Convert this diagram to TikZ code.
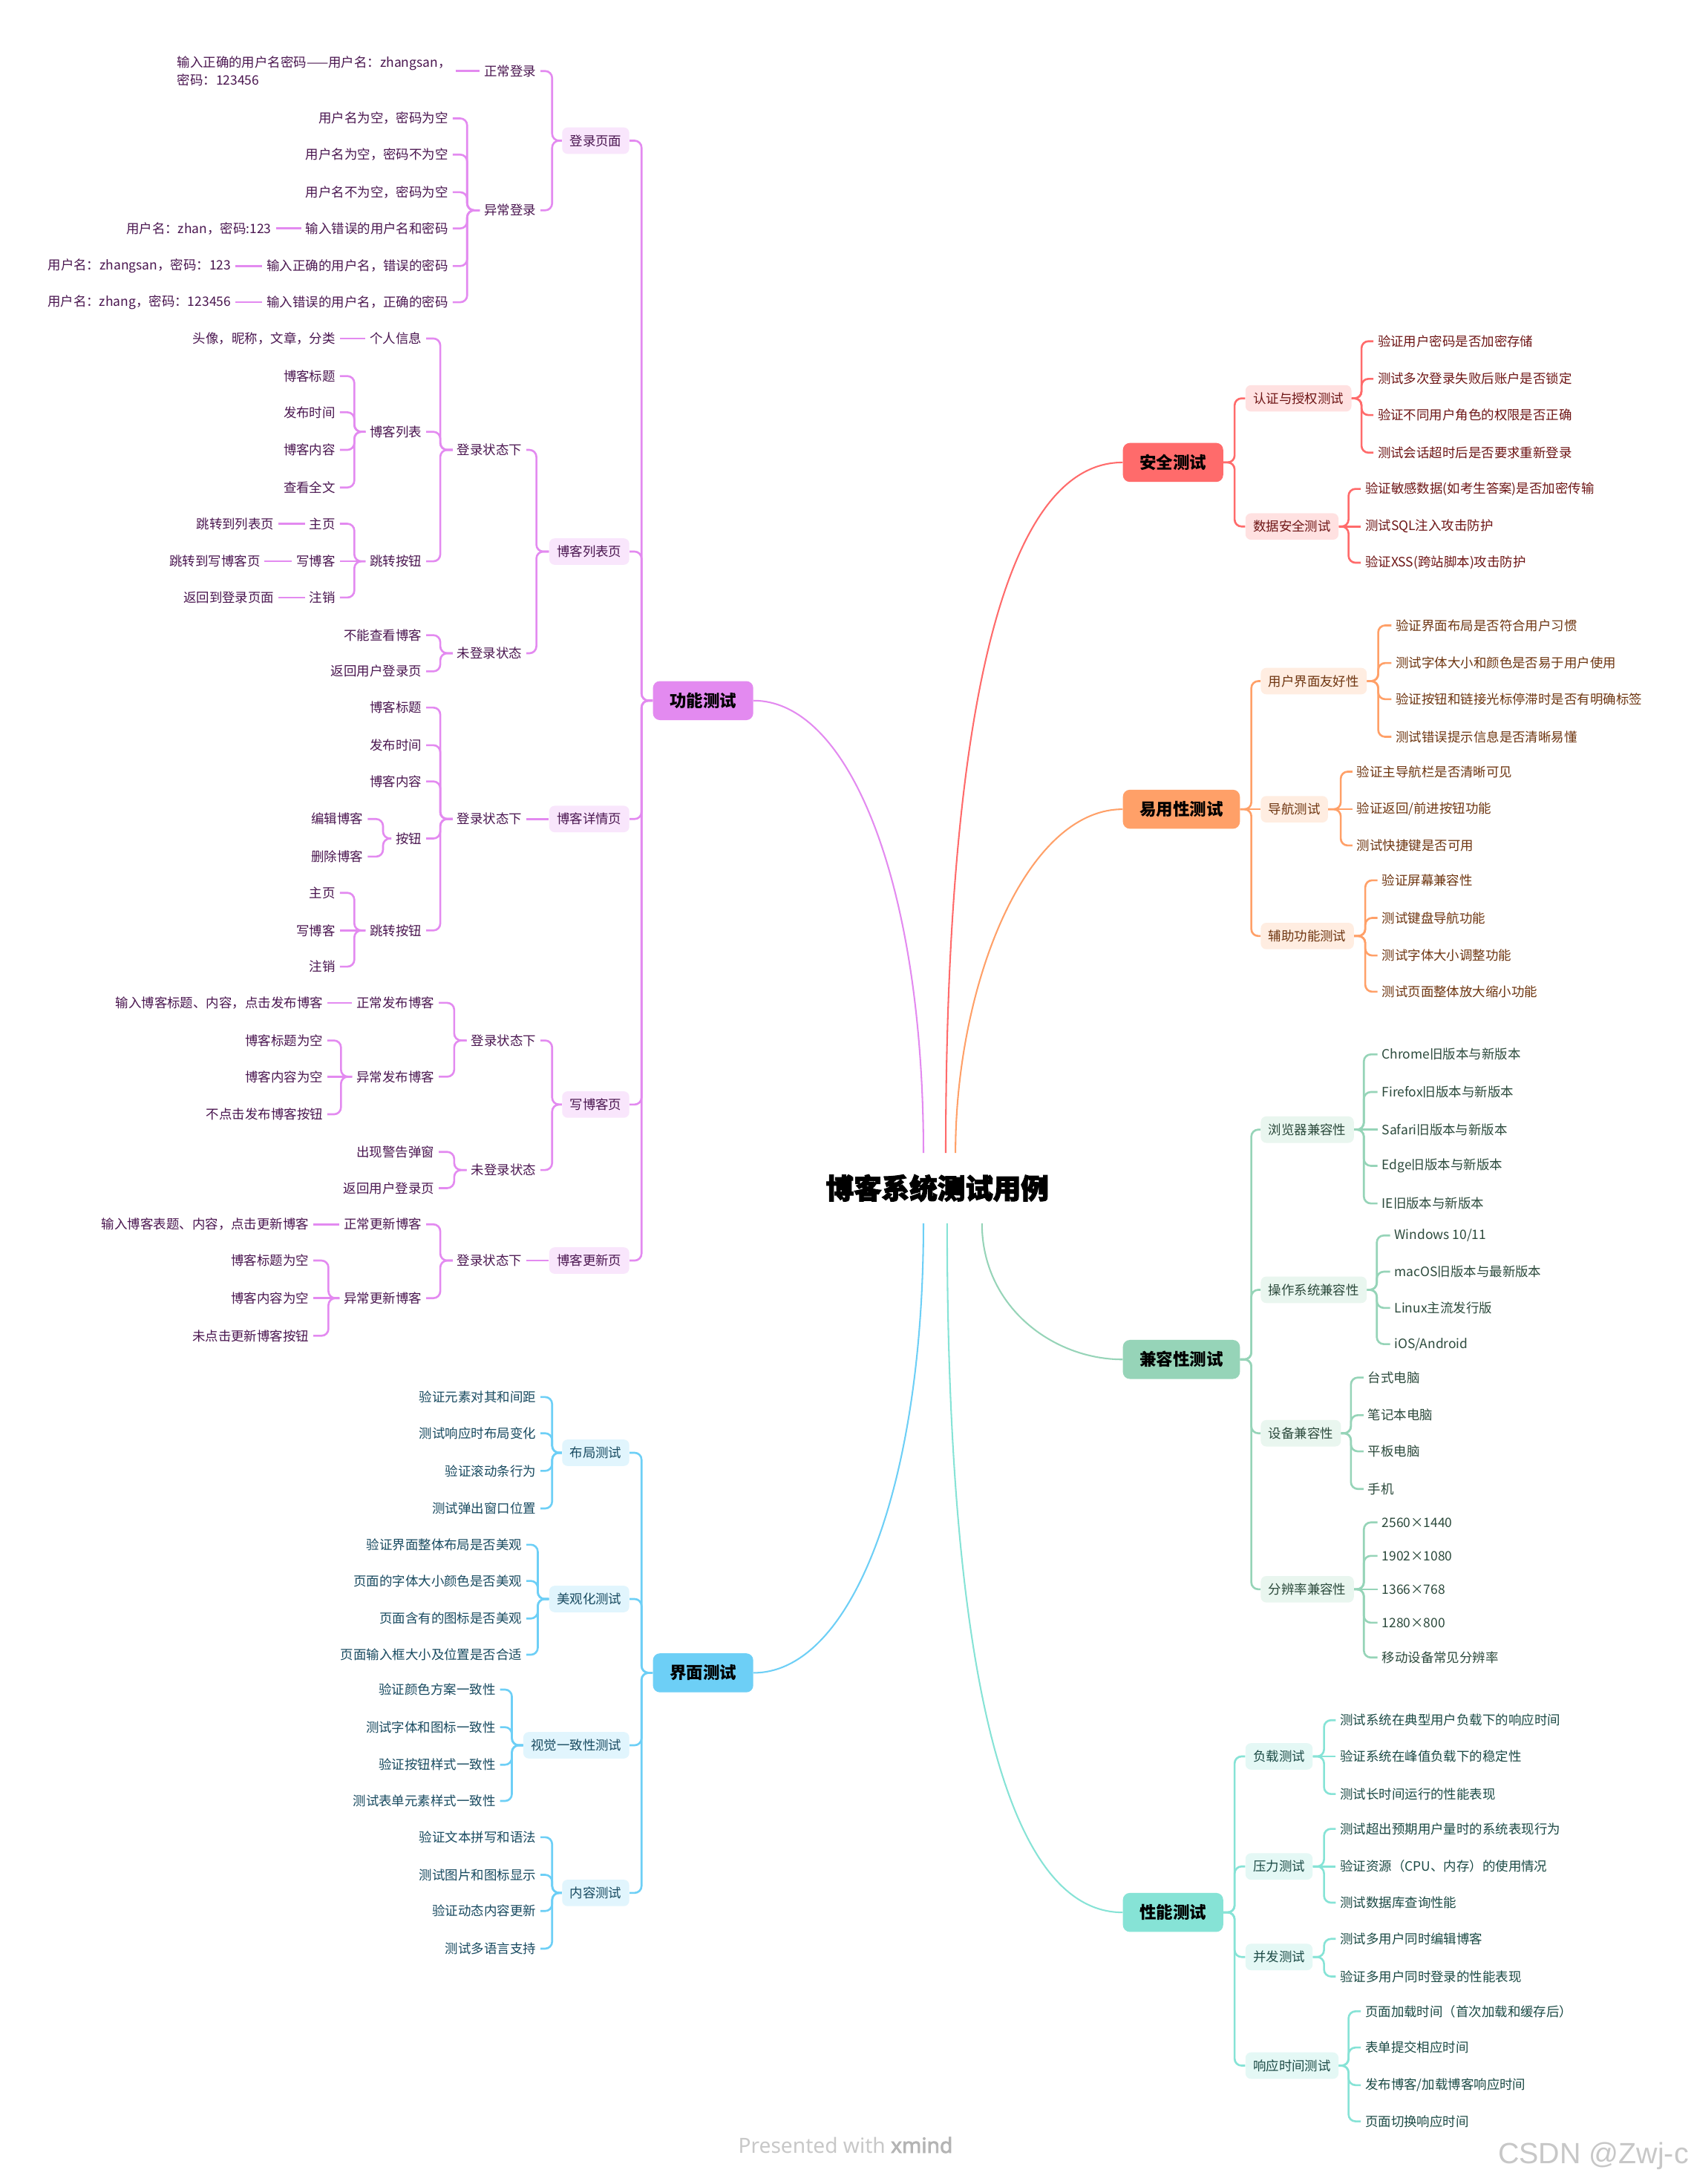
\documentclass[tikz,border=0pt]{standalone}
\usepackage{fontspec}
\setmainfont{Noto Sans CJK SC}
\newfontfamily\titlefont[BoldFeatures={FakeBold=3}]{Noto Sans CJK SC}
\newfontfamily\footfont{Noto Sans}
\newfontfamily\footboldfont[FakeBold=2.5]{Noto Sans}
\newfontfamily\wmfont{Liberation Sans}
\usetikzlibrary{calc}
\definecolor{pln}{HTML}{E38AF0}
\definecolor{psb}{HTML}{F9E6FC}
\definecolor{ptx}{HTML}{4A1650}
\definecolor{rln}{HTML}{FF6B6B}
\definecolor{rsb}{HTML}{FFE1E1}
\definecolor{rtx}{HTML}{6E1515}
\definecolor{oln}{HTML}{FFA068}
\definecolor{osb}{HTML}{FFEDE1}
\definecolor{otx}{HTML}{6E3510}
\definecolor{gln}{HTML}{96D4B8}
\definecolor{gsb}{HTML}{E9F6EF}
\definecolor{gtx}{HTML}{2C4A3C}
\definecolor{bln}{HTML}{6DCFF6}
\definecolor{bsb}{HTML}{E1F5FD}
\definecolor{btx}{HTML}{184A60}
\definecolor{tln}{HTML}{86E3D6}
\definecolor{tsb}{HTML}{E4F8F5}
\definecolor{ttx}{HTML}{1B4A45}
\definecolor{ftc}{HTML}{C8C8C8}
\definecolor{ftb}{HTML}{B4B4B4}
\newcommand\brL[4]{\foreach \kid in {#4}{\draw[#1] (#2.west) -- ([xshift=-#3pt]#2.west) |- (\kid.east);}}
\newcommand\brR[4]{\foreach \kid in {#4}{\draw[#1] (#2.east) -- ([xshift=#3pt]#2.east) |- (\kid.west);}}
\newcommand\stL[3]{\draw[#1] (#3.east) -- (#2.west);}
\newcommand\stR[3]{\draw[#1] (#2.east) -- (#3.west);}
\tikzset{
  lf/.style={inner xsep=3pt, inner ysep=1pt, font=\fontsize{9.3}{13}\selectfont},
  lL/.style={lf, anchor=east},
  lR/.style={lf, anchor=west},
  sb/.style={rounded corners=4pt, inner xsep=5.5pt, inner ysep=0pt, minimum height=19pt, font=\fontsize{9.3}{13}\selectfont},
  sbL/.style={sb, anchor=east},
  sbR/.style={sb, anchor=west},
  mn/.style={rounded corners=5pt, inner xsep=12pt, inner ysep=0pt, minimum height=28pt, font=\fontsize{12}{14}\selectfont\bfseries, text=black},
  mnL/.style={mn, anchor=east},
  mnR/.style={mn, anchor=west},
  cn/.style={line width=1.4pt, rounded corners=5pt},
  cv/.style={line width=1.1pt},
  pL/.style={lL, text=ptx}, pS/.style={sbL, fill=psb, text=ptx}, pC/.style={cn, draw=pln},
  bL/.style={lL, text=btx}, bS/.style={sbL, fill=bsb, text=btx}, bC/.style={cn, draw=bln},
  rL/.style={lR, text=rtx}, rS/.style={sbR, fill=rsb, text=rtx}, rC/.style={cn, draw=rln},
  oL/.style={lR, text=otx}, oS/.style={sbR, fill=osb, text=otx}, oC/.style={cn, draw=oln},
  gL/.style={lR, text=gtx}, gS/.style={sbR, fill=gsb, text=gtx}, gC/.style={cn, draw=gln},
  tL/.style={lR, text=ttx}, tS/.style={sbR, fill=tsb, text=ttx}, tC/.style={cn, draw=tln},
}
\begin{document}
\begin{tikzpicture}[x=1pt, y=-1pt]
\fill[white] (0,0) rectangle (1216,1568);
\useasboundingbox (0,0) rectangle (1216,1568);

% ---------- title ----------
\node[font=\titlefont\bfseries\fontsize{20}{24}\selectfont, minimum height=50pt, inner xsep=0pt] (title) at (673,853) {博客系统测试用例};

% ---------- main topics ----------
\node[mnL, fill=pln] (f) at (541,503) {功能测试};
\node[mnL, fill=bln] (u) at (541,1201) {界面测试};
\node[mnR, fill=rln] (s) at (806,332) {安全测试};
\node[mnR, fill=oln] (o) at (806,581) {易用性测试};
\node[mnR, fill=gln] (g) at (806,976) {兼容性测试};
\node[mnR, fill=tln] (t) at (806,1373) {性能测试};

\draw[cv, draw=pln] ([xshift=-10pt]title.north) .. controls +(0,-190) and +(70,0) .. (f.east);
\draw[cv, draw=rln] ([xshift=6pt]title.north) .. controls +(0,-250) and +(-100,0) .. (s.west);
\draw[cv, draw=oln] ([xshift=13pt]title.north) .. controls +(0,-120) and +(-70,0) .. (o.west);
\draw[cv, draw=gln] ([xshift=32pt]title.south) .. controls +(0,60) and +(-50,0) .. (g.west);
\draw[cv, draw=bln] ([xshift=-10pt]title.south) .. controls +(0,190) and +(70,0) .. (u.east);
\draw[cv, draw=tln] ([xshift=7pt]title.south) .. controls +(0,250) and +(-100,0) .. (t.west);

% ================= 功能测试 =================
\node[pS] (f1) at (452,101) {登录页面};
\node[pS] (f2) at (452,396) {博客列表页};
\node[pS] (f3) at (452,588) {博客详情页};
\node[pS] (f4) at (452,793) {写博客页};
\node[pS] (f5) at (452,905) {博客更新页};
\brL{pC}{f}{8}{f1,f2,f3,f4,f5}

% 登录页面
\node[pL] (f1a) at (388,51) {正常登录};
\node[pL] (f1b) at (388,151) {异常登录};
\brL{pC}{f1}{7}{f1a,f1b}
\node[pL, align=left] (f1a1) at (327,51) {输入正确的用户名密码——用户名：zhangsan，\\密码：123456};
\stL{pC}{f1a}{f1a1}
\node[pL] (f1b1) at (325,85) {用户名为空，密码为空};
\node[pL] (f1b2) at (325,111) {用户名为空，密码不为空};
\node[pL] (f1b3) at (325,138) {用户名不为空，密码为空};
\node[pL] (f1b4) at (325,164) {输入错误的用户名和密码};
\node[pL] (f1b5) at (325,191) {输入正确的用户名，错误的密码};
\node[pL] (f1b6) at (325,217) {输入错误的用户名，正确的密码};
\brL{pC}{f1b}{9}{f1b1,f1b2,f1b3,f1b4,f1b5,f1b6}
\node[pL] (f1b4a) at (198,164) {用户名：zhan，密码:123};
\node[pL] (f1b5a) at (169,191) {用户名：zhangsan，密码：123};
\node[pL] (f1b6a) at (169,217) {用户名：zhang，密码：123456};
\stL{pC}{f1b4}{f1b4a}
\stL{pC}{f1b5}{f1b5a}
\stL{pC}{f1b6}{f1b6a}

% 博客列表页
\node[pL] (f2a) at (378,323) {登录状态下};
\node[pL] (f2b) at (378,469) {未登录状态};
\brL{pC}{f2}{9}{f2a,f2b}
\node[pL] (f2a1) at (306,243) {个人信息};
\node[pL] (f2a2) at (306,310) {博客列表};
\node[pL] (f2a3) at (306,403) {跳转按钮};
\brL{pC}{f2a}{9}{f2a1,f2a2,f2a3}
\node[pL] (f2a1a) at (244,243) {头像，昵称，文章，分类};
\stL{pC}{f2a1}{f2a1a}
\node[pL] (f2a2a) at (244,270) {博客标题};
\node[pL] (f2a2b) at (244,296) {发布时间};
\node[pL] (f2a2c) at (244,323) {博客内容};
\node[pL] (f2a2d) at (244,350) {查看全文};
\brL{pC}{f2a2}{8}{f2a2a,f2a2b,f2a2c,f2a2d}
\node[pL] (f2a3a) at (244,376) {主页};
\node[pL] (f2a3b) at (244,403) {写博客};
\node[pL] (f2a3c) at (244,429) {注销};
\brL{pC}{f2a3}{8}{f2a3a,f2a3c}
\stL{pC}{f2a3}{f2a3b}
\node[pL] (f2a3a1) at (200,376) {跳转到列表页};
\node[pL] (f2a3b1) at (190,403) {跳转到写博客页};
\node[pL] (f2a3c1) at (200,429) {返回到登录页面};
\stL{pC}{f2a3a}{f2a3a1}
\stL{pC}{f2a3b}{f2a3b1}
\stL{pC}{f2a3c}{f2a3c1}
\node[pL] (f2b1) at (306,456) {不能查看博客};
\node[pL] (f2b2) at (306,482) {返回用户登录页};
\brL{pC}{f2b}{9}{f2b1,f2b2}

% 博客详情页
\node[pL] (f3a) at (378,588) {登录状态下};
\stL{pC}{f3}{f3a}
\node[pL] (f3a1) at (306,508) {博客标题};
\node[pL] (f3a2) at (306,535) {发布时间};
\node[pL] (f3a3) at (306,561) {博客内容};
\node[pL] (f3a4) at (306,602) {按钮};
\node[pL] (f3a5) at (306,668) {跳转按钮};
\brL{pC}{f3a}{9}{f3a1,f3a2,f3a3,f3a4,f3a5}
\node[pL] (f3a4a) at (264,588) {编辑博客};
\node[pL] (f3a4b) at (264,615) {删除博客};
\brL{pC}{f3a4}{6}{f3a4a,f3a4b}
\node[pL] (f3a5a) at (244,641) {主页};
\node[pL] (f3a5b) at (244,668) {写博客};
\node[pL] (f3a5c) at (244,694) {注销};
\brL{pC}{f3a5}{8}{f3a5a,f3a5c}
\stL{pC}{f3a5}{f3a5b}

% 写博客页
\node[pL] (f4a) at (388,747) {登录状态下};
\node[pL] (f4b) at (388,840) {未登录状态};
\brL{pC}{f4}{7}{f4a,f4b}
\node[pL] (f4a1) at (315,720) {正常发布博客};
\node[pL] (f4a2) at (315,773) {异常发布博客};
\brL{pC}{f4a}{9}{f4a1,f4a2}
\node[pL] (f4a1a) at (235,720) {输入博客标题、内容，点击发布博客};
\stL{pC}{f4a1}{f4a1a}
\node[pL] (f4a2a) at (235,747) {博客标题为空};
\node[pL] (f4a2b) at (235,773) {博客内容为空};
\node[pL] (f4a2c) at (235,800) {不点击发布博客按钮};
\brL{pC}{f4a2}{8}{f4a2a,f4a2c}
\stL{pC}{f4a2}{f4a2b}
\node[pL] (f4b1) at (315,827) {出现警告弹窗};
\node[pL] (f4b2) at (315,853) {返回用户登录页};
\brL{pC}{f4b}{9}{f4b1,f4b2}

% 博客更新页
\node[pL] (f5a) at (378,905) {登录状态下};
\stL{pC}{f5}{f5a}
\node[pL] (f5a1) at (306,879) {正常更新博客};
\node[pL] (f5a2) at (306,932) {异常更新博客};
\brL{pC}{f5a}{9}{f5a1,f5a2}
\node[pL] (f5a1a) at (225,879) {输入博客表题、内容，点击更新博客};
\stL{pC}{f5a1}{f5a1a}
\node[pL] (f5a2a) at (225,905) {博客标题为空};
\node[pL] (f5a2b) at (225,932) {博客内容为空};
\node[pL] (f5a2c) at (225,959) {未点击更新博客按钮};
\brL{pC}{f5a2}{8}{f5a2a,f5a2c}
\stL{pC}{f5a2}{f5a2b}

% ================= 界面测试 =================
\node[bS] (u1) at (452,1043) {布局测试};
\node[bS] (u2) at (452,1148) {美观化测试};
\node[bS] (u3) at (452,1253) {视觉一致性测试};
\node[bS] (u4) at (452,1359) {内容测试};
\brL{bC}{u}{8}{u1,u2,u3,u4}
\node[bL] (u1a) at (388,1003) {验证元素对其和间距};
\node[bL] (u1b) at (388,1029) {测试响应时布局变化};
\node[bL] (u1c) at (388,1056) {验证滚动条行为};
\node[bL] (u1d) at (388,1083) {测试弹出窗口位置};
\brL{bC}{u1}{7}{u1a,u1b,u1c,u1d}
\node[bL] (u2a) at (378,1109) {验证界面整体布局是否美观};
\node[bL] (u2b) at (378,1135) {页面的字体大小颜色是否美观};
\node[bL] (u2c) at (378,1162) {页面含有的图标是否美观};
\node[bL] (u2d) at (378,1188) {页面输入框大小及位置是否合适};
\brL{bC}{u2}{8}{u2a,u2b,u2c,u2d}
\node[bL] (u3a) at (359,1213) {验证颜色方案一致性};
\node[bL] (u3b) at (359,1240) {测试字体和图标一致性};
\node[bL] (u3c) at (359,1267) {验证按钮样式一致性};
\node[bL] (u3d) at (359,1293) {测试表单元素样式一致性};
\brL{bC}{u3}{8}{u3a,u3b,u3c,u3d}
\node[bL] (u4a) at (388,1319) {验证文本拼写和语法};
\node[bL] (u4b) at (388,1346) {测试图片和图标显示};
\node[bL] (u4c) at (388,1372) {验证动态内容更新};
\node[bL] (u4d) at (388,1399) {测试多语言支持};
\brL{bC}{u4}{7}{u4a,u4b,u4c,u4d}

% ================= 安全测试 =================
\node[rS] (s1) at (894,286) {认证与授权测试};
\node[rS] (s2) at (894,378) {数据安全测试};
\brR{rC}{s}{8}{s1,s2}
\node[rL] (s1a) at (986,245) {验证用户密码是否加密存储};
\node[rL] (s1b) at (986,272) {测试多次登录失败后账户是否锁定};
\node[rL] (s1c) at (986,298) {验证不同用户角色的权限是否正确};
\node[rL] (s1d) at (986,325) {测试会话超时后是否要求重新登录};
\brR{rC}{s1}{7}{s1a,s1b,s1c,s1d}
\node[rL] (s2a) at (977,351) {验证敏感数据(如考生答案)是否加密传输};
\node[rL] (s2b) at (977,378) {测试SQL注入攻击防护};
\node[rL] (s2c) at (977,404) {验证XSS(跨站脚本)攻击防护};
\brR{rC}{s2}{7}{s2a,s2c}
\stR{rC}{s2}{s2b}

% ================= 易用性测试 =================
\node[oS] (o1) at (905,489) {用户界面友好性};
\node[oS] (o2) at (905,581) {导航测试};
\node[oS] (o3) at (905,672) {辅助功能测试};
\brR{oC}{o}{8}{o1,o3}
\stR{oC}{o}{o2}
\node[oL] (o1a) at (999,449) {验证界面布局是否符合用户习惯};
\node[oL] (o1b) at (999,476) {测试字体大小和颜色是否易于用户使用};
\node[oL] (o1c) at (999,502) {验证按钮和链接光标停滞时是否有明确标签};
\node[oL] (o1d) at (999,529) {测试错误提示信息是否清晰易懂};
\brR{oC}{o1}{8}{o1a,o1b,o1c,o1d}
\node[oL] (o2a) at (971,554) {验证主导航栏是否清晰可见};
\node[oL] (o2b) at (971,581) {验证返回/前进按钮功能};
\node[oL] (o2c) at (971,607) {测试快捷键是否可用};
\brR{oC}{o2}{9}{o2a,o2c}
\stR{oC}{o2}{o2b}
\node[oL] (o3a) at (989,632) {验证屏幕兼容性};
\node[oL] (o3b) at (989,659) {测试键盘导航功能};
\node[oL] (o3c) at (989,686) {测试字体大小调整功能};
\node[oL] (o3d) at (989,712) {测试页面整体放大缩小功能};
\brR{oC}{o3}{8}{o3a,o3b,o3c,o3d}

% ================= 兼容性测试 =================
\node[gS] (g1) at (905,811) {浏览器兼容性};
\node[gS] (g2) at (905,926) {操作系统兼容性};
\node[gS] (g3) at (905,1029) {设备兼容性};
\node[gS] (g4) at (905,1141) {分辨率兼容性};
\brR{gC}{g}{8}{g1,g2,g3,g4}
\node[gL] (g1a) at (989,757) {Chrome旧版本与新版本};
\node[gL] (g1b) at (989,784) {Firefox旧版本与新版本};
\node[gL] (g1c) at (989,811) {Safari旧版本与新版本};
\node[gL] (g1d) at (989,837) {Edge旧版本与新版本};
\node[gL] (g1e) at (989,864) {IE旧版本与新版本};
\brR{gC}{g1}{7}{g1a,g1b,g1d,g1e}
\stR{gC}{g1}{g1c}
\node[gL] (g2a) at (998,887) {Windows 10/11};
\node[gL] (g2b) at (998,913) {macOS旧版本与最新版本};
\node[gL] (g2c) at (998,939) {Linux主流发行版};
\node[gL] (g2d) at (998,965) {iOS/Android};
\brR{gC}{g2}{7}{g2a,g2b,g2c,g2d}
\node[gL] (g3a) at (979,989) {台式电脑};
\node[gL] (g3b) at (979,1016) {笔记本电脑};
\node[gL] (g3c) at (979,1042) {平板电脑};
\node[gL] (g3d) at (979,1069) {手机};
\brR{gC}{g3}{7}{g3a,g3b,g3c,g3d}
\node[gL] (g4a) at (989,1093) {2560×1440};
\node[gL] (g4b) at (989,1117) {1902×1080};
\node[gL] (g4c) at (989,1141) {1366×768};
\node[gL] (g4d) at (989,1165) {1280×800};
\node[gL] (g4e) at (989,1190) {移动设备常见分辨率};
\brR{gC}{g4}{7}{g4a,g4b,g4d,g4e}
\stR{gC}{g4}{g4c}

% ================= 性能测试 =================
\node[tS] (t1) at (894,1261) {负载测试};
\node[tS] (t2) at (894,1340) {压力测试};
\node[tS] (t3) at (894,1405) {并发测试};
\node[tS] (t4) at (894,1483) {响应时间测试};
\brR{tC}{t}{8}{t1,t2,t3,t4}
\node[tL] (t1a) at (959,1235) {测试系统在典型用户负载下的响应时间};
\node[tL] (t1b) at (959,1261) {验证系统在峰值负载下的稳定性};
\node[tL] (t1c) at (959,1288) {测试长时间运行的性能表现};
\brR{tC}{t1}{8}{t1a,t1c}
\stR{tC}{t1}{t1b}
\node[tL] (t2a) at (959,1313) {测试超出预期用户量时的系统表现行为};
\node[tL] (t2b) at (959,1340) {验证资源（CPU、内存）的使用情况};
\node[tL] (t2c) at (959,1366) {测试数据库查询性能};
\brR{tC}{t2}{8}{t2a,t2c}
\stR{tC}{t2}{t2b}
\node[tL] (t3a) at (959,1392) {测试多用户同时编辑博客};
\node[tL] (t3b) at (959,1419) {验证多用户同时登录的性能表现};
\brR{tC}{t3}{8}{t3a,t3b}
\node[tL] (t4a) at (977,1444) {页面加载时间（首次加载和缓存后）};
\node[tL] (t4b) at (977,1470) {表单提交相应时间};
\node[tL] (t4c) at (977,1497) {发布博客/加载博客响应时间};
\node[tL] (t4d) at (977,1523) {页面切换响应时间};
\brR{tC}{t4}{7}{t4a,t4b,t4c,t4d}

% ---------- footer ----------
\node[text=ftc, font=\footfont\fontsize{15}{17}\selectfont] (foot) at (607,1540) {Presented with {\footboldfont\color{ftb}xmind}};
\node[text=black!22, font=\wmfont\fontsize{21}{24}\selectfont] (wm) at (1144,1548) {CSDN @Zwj-c};
\end{tikzpicture}
\end{document}
